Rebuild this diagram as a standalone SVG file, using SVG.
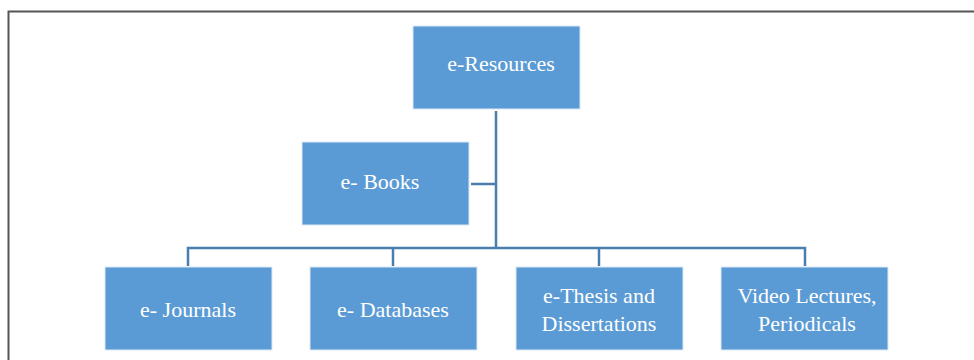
<svg xmlns="http://www.w3.org/2000/svg" width="974" height="360" viewBox="0 0 974 360">
<style>
.box{fill:#5B9BD5;stroke:#DCE8F5;stroke-width:1}
.t{font-family:"Liberation Serif","Times New Roman",serif;font-size:22px;fill:#FFFFFF;text-anchor:middle}
.c{fill:none;stroke:#4A7EAF;stroke-width:2.5}
</style>
<rect width="974" height="360" fill="#FFFFFF"/>
<path d="M8.5 360 V11.5 H974" fill="none" stroke="#555555" stroke-width="2"/>
<g id="connectors">
<path class="c" d="M496 111 V248"/>
<path class="c" d="M471 184 H496"/>
<path class="c" d="M188 266 V248 H805 V266"/>
<path class="c" d="M393 248 V266"/>
<path class="c" d="M599 248 V266"/>
</g>
<g id="e-resources"><rect class="box" x="413" y="26" width="167" height="83"/><text class="t" x="501" y="71">e-Resources</text></g>
<g id="e-books"><rect class="box" x="302" y="142" width="167" height="83"/><text class="t" x="380" y="189">e- Books</text></g>
<g id="e-journals"><rect class="box" x="105" y="267" width="167" height="83"/><text class="t" x="188" y="317">e- Journals</text></g>
<g id="e-databases"><rect class="box" x="310" y="267" width="167" height="83"/><text class="t" x="393" y="317">e- Databases</text></g>
<g id="e-thesis"><rect class="box" x="516" y="267" width="167" height="83"/><text class="t" x="599" y="303">e-Thesis and</text><text class="t" x="599" y="331">Dissertations</text></g>
<g id="video-lectures"><rect class="box" x="721" y="267" width="167" height="83"/><text class="t" x="807" y="303">Video Lectures,</text><text class="t" x="807" y="331">Periodicals</text></g>
</svg>
